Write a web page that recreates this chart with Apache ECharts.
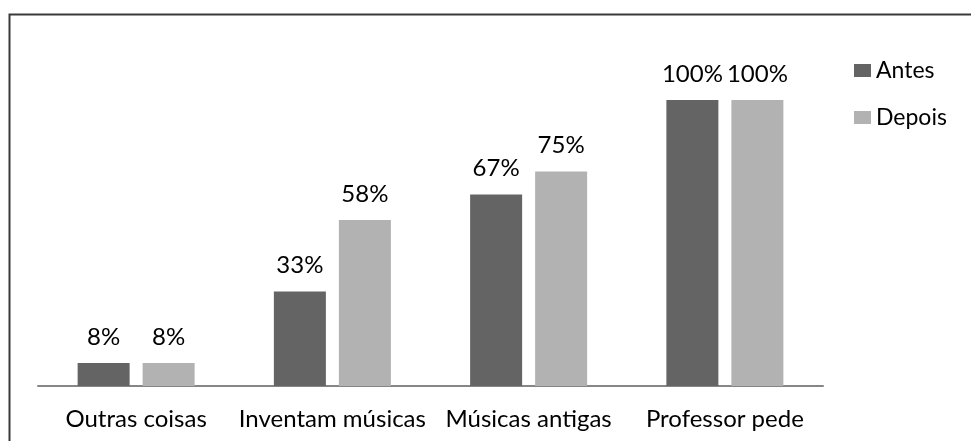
<!DOCTYPE html>
<html>
<head>
<meta charset="utf-8">
<script src="https://cdn.jsdelivr.net/npm/echarts@6/dist/echarts.min.js"></script>
<style>html,body{margin:0;padding:0;background:#fff;}#c{width:971px;height:441px;}</style>
</head>
<body>
<div id="c"></div>
<script>
const categories = ['Outras coisas', 'Inventam músicas', 'Músicas antigas', 'Professor pede'];
const antes = [8, 33, 67, 100];
const depois = [8, 58, 75, 100];
const seriesNames = ['Antes', 'Depois'];

const FONT = 'Lato';
const chart = echarts.init(document.getElementById('c'), null, {renderer: 'canvas'});
const labelCfg = {
  show: true, position: 'top', distance: 14,
  fontFamily: FONT, fontSize: 24, color: '#000',
  formatter: p => p.value + '%'
};
chart.setOption({
  animation: false,
  backgroundColor: '#fff',
  graphic: [{
    type: 'rect', shape: {x: 9.5, y: 14.5, width: 1200, height: 1200},
    style: {fill: 'none', stroke: '#3a3a3a', lineWidth: 2}, silent: true, z: -1
  }],
  grid: {left: 38, right: 148, top: 100, bottom: 55, containLabel: false},
  legend: {
    orient: 'vertical', left: 849, top: 54,
    itemWidth: 17, itemHeight: 13, itemGap: 24,
    icon: 'rect',
    textStyle: {fontFamily: FONT, fontSize: 23, color: '#000'},
    data: seriesNames
  },
  xAxis: {
    type: 'category', data: categories,
    axisLine: {lineStyle: {color: '#868686', width: 2}},
    axisTick: {show: false},
    axisLabel: {fontFamily: FONT, fontSize: 24, color: '#000', margin: 21, interval: 0}
  },
  yAxis: {
    type: 'value', min: 0, max: 100, show: false,
    splitLine: {show: false}
  },
  series: [
    {name: seriesNames[0], type: 'bar', data: antes, barWidth: 52, barGap: '25%',
     itemStyle: {color: '#646464'}, label: labelCfg},
    {name: seriesNames[1], type: 'bar', data: depois, barWidth: 52, barGap: '25%',
     itemStyle: {color: '#b2b2b2'}, label: labelCfg}
  ]
});
</script>
</body>
</html>
